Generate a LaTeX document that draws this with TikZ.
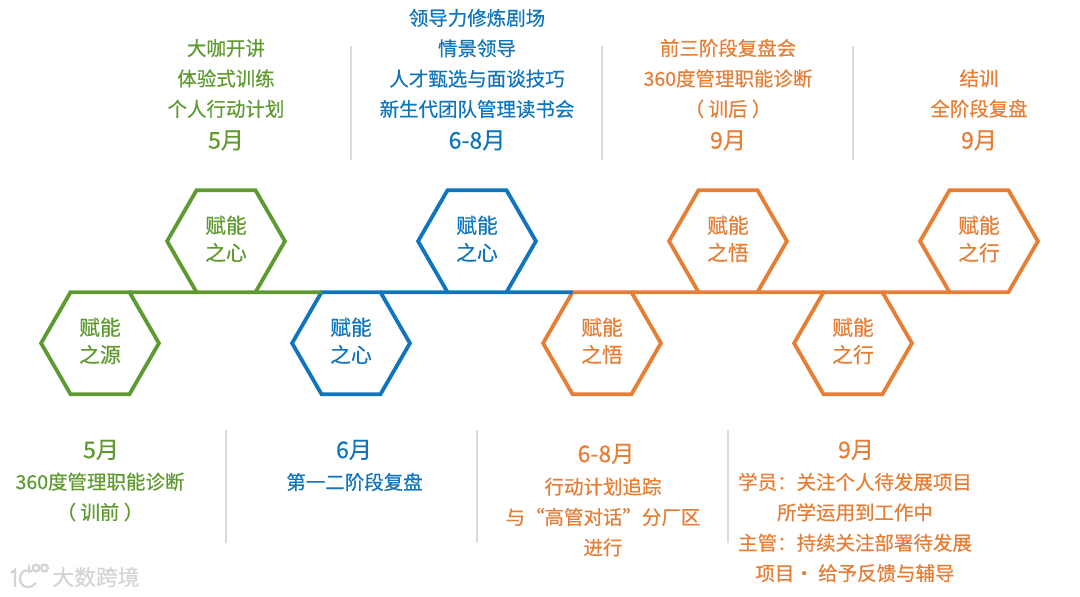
\documentclass[tikz,border=0pt]{standalone}
\usepackage{fontspec}
\setmainfont[FakeBold=0.5]{Noto Sans CJK SC}
\usetikzlibrary{shapes.geometric}
\definecolor{leaf}{HTML}{5F9A30}
\definecolor{sea}{HTML}{0F75BC}
\definecolor{ember}{HTML}{E67E36}
\definecolor{rulegray}{HTML}{D9DCDD}
\definecolor{markgray}{HTML}{D4D4D4}
\begin{document}
\begin{tikzpicture}[
  x=0.025cm, y=-0.025cm,
  hexa/.style={draw, regular polygon, regular polygon sides=6, line width=2.7pt,
               minimum size=2.945cm, inner sep=0pt, outer sep=0pt, align=center, text depth=4.4pt,
               font=\fontsize{14.8}{19.4}\selectfont},
  lines/.style={align=center, inner sep=0pt, font=\fontsize{13.85}{21.6}\selectfont},
  month/.style={align=center, inner sep=0pt, font=\fontsize{16.4}{18}\selectfont},
  spine/.style={line width=2.7pt},
  sep/.style={draw=rulegray, line width=0.8pt},
  logo/.style={draw=markgray, line width=1.6pt}
]
\useasboundingbox (0,0) rectangle (1080,597);
\node[hexa, draw=leaf, text=leaf] (yuan) at (100,343.2) {赋能\\之源};
\node[hexa, draw=leaf, text=leaf] (xinA) at (226,241.2) {赋能\\之心};
\node[hexa, draw=sea, text=sea] (xinB) at (351,343.2) {赋能\\之心};
\node[hexa, draw=sea, text=sea] (xinC) at (477,241.2) {赋能\\之心};
\node[hexa, draw=ember, text=ember] (wuA) at (602,343.2) {赋能\\之悟};
\node[hexa, draw=ember, text=ember] (wuB) at (728,241.2) {赋能\\之悟};
\node[hexa, draw=ember, text=ember] (xingA) at (853,343.2) {赋能\\之行};
\node[hexa, draw=ember, text=ember] (xingB) at (979,241.2) {赋能\\之行};
\draw[spine, leaf] (yuan.corner 1) -- (xinA.corner 4);
\draw[spine, leaf] (xinA.corner 5) -- (xinB.corner 2);
\draw[spine, sea] (xinB.corner 1) -- (xinC.corner 4);
\draw[spine, sea] (xinC.corner 5) -- (wuA.corner 2);
\draw[spine, ember] (wuA.corner 1) -- (wuB.corner 4);
\draw[spine, ember] (wuB.corner 5) -- (xingA.corner 2);
\draw[spine, ember] (xingA.corner 1) -- (xingB.corner 4);
\node[lines, text=leaf] (upA) at (226,78.5) {大咖开讲\\体验式训练\\个人行动计划};
\node[month, text=leaf] (upAm) at (226,140.5) {5月};
\node[lines, text=sea] (upB) at (477,63.5) {领导力修炼剧场\\情景领导\\人才甄选与面谈技巧\\新生代团队管理读书会};
\node[month, text=sea] (upBm) at (477,140.5) {6-8月};
\node[lines, text=ember] (upC) at (728,78.5) {前三阶段复盘会\\360度管理职能诊断\\（ 训后 ）};
\node[month, text=ember] (upCm) at (728,140.5) {9月};
\node[lines, text=ember] (upD) at (979,93.5) {结训\\全阶段复盘};
\node[month, text=ember] (upDm) at (979,140.5) {9月};
\node[month, text=leaf] (lowAm) at (101,450) {5月};
\node[lines, text=leaf] (lowA) at (100,497) {360度管理职能诊断\\（ 训前 ）};
\node[month, text=sea] (lowBm) at (354,450) {6月};
\node[lines, text=sea] (lowB) at (354.5,482) {第一二阶段复盘};
\node[month, text=ember] (lowCm) at (606,454) {6-8月};
\node[lines, text=ember] (lowC) at (603,517) {行动计划追踪\\与“高管对话”分厂区\\进行};
\node[month, text=ember] (lowDm) at (856,450) {9月};
\node[lines, text=ember] (lowD) at (855,527.5) {学员：关注个人待发展项目\\所学运用到工作中\\主管：持续关注部署待发展\\项目· 给予反馈与辅导};
\draw[sep] (351,46) -- (351,160);
\draw[sep] (602,46) -- (602,160);
\draw[sep] (853,46) -- (853,160);
\draw[sep] (226,430) -- (226,543);
\draw[sep] (477,430) -- (477,543);
\draw[sep] (728,430) -- (728,543);
\draw[logo] (11,573) -- (15,570) -- (15,587);
\draw[logo] (32,571) .. controls (22,568) and (18,576) .. (21,583) .. controls (24,589) and (32,588) .. (36,583);
\draw[logo] (29,565) -- (29,573);
\draw[logo] (36,568) circle[radius=0.085cm];
\draw[logo] (44.5,568) circle[radius=0.085cm];
\node[inner sep=0pt, text=markgray, font=\fontsize{15.5}{18}\selectfont] (mark) at (96,577) {大数跨境};
\end{tikzpicture}
\end{document}
